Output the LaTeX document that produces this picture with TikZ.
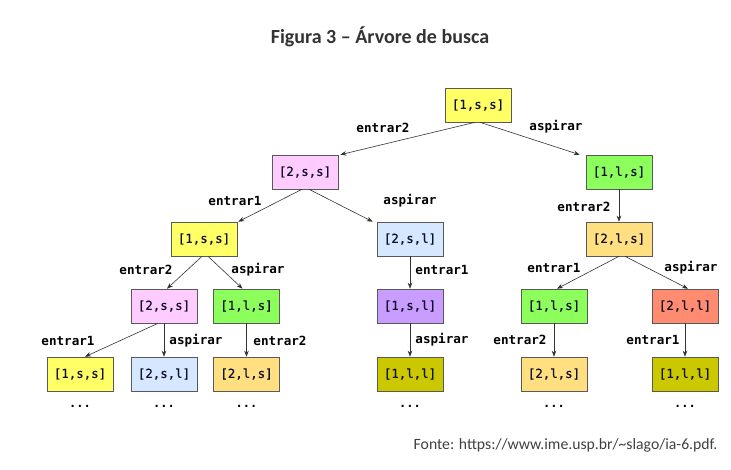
\documentclass[tikz,border=0pt]{standalone}
\usepackage{fontspec}
\setmainfont{Carlito}
\setmonofont{DejaVu Sans Mono}
\newfontfamily\nodefont{DejaVu Sans Mono}[FakeBold=0.6]
\usetikzlibrary{arrows.meta}
\definecolor{cyel}{HTML}{FFFF66}
\definecolor{cpink}{HTML}{FFCCFF}
\definecolor{cgreen}{HTML}{8CFF5C}
\definecolor{cblue}{HTML}{D6E8FF}
\definecolor{cgold}{HTML}{FFDF80}
\definecolor{cpurp}{HTML}{C99CFF}
\definecolor{colive}{HTML}{CCC800}
\definecolor{csalm}{HTML}{FF8C70}
\definecolor{ctxt}{HTML}{101028}
\tikzset{
  st/.style={draw=black!65, line width=0.6pt, minimum width=66pt, minimum height=34pt, inner sep=0pt,
    font=\fontsize{12.4}{13}\selectfont\nodefont, text=ctxt},
  lbl/.style={font=\fontsize{12.6}{13}\selectfont\ttfamily\bfseries, text=black, inner sep=0pt},
  dots/.style={font=\fontsize{12}{13}\selectfont\ttfamily\bfseries, text=black, inner sep=0pt},
  edge/.style={draw=black!80, line width=0.6pt, -{Stealth[length=6pt,width=4.5pt]}}
}
\begin{document}
\begin{tikzpicture}[x=1pt,y=-1pt]
\fill[white] (0,0) rectangle (731,469);
\useasboundingbox (0,0) rectangle (731,469);
\node[font=\fontsize{20}{22}\selectfont\bfseries, text=black!80] (title) at (380,37) {Figura 3 – Árvore de busca};
\node[font=\fontsize{15.7}{17}\selectfont, text=black!75, anchor=east] (src) at (721,445) {Fonte: https://www.ime.usp.br/\char`\~slago/ia-6.pdf.};
% nodes
\node[st, fill=cyel]  (r)    at (478,105) {[1,s,s]};
\node[st, fill=cpink] (a)    at (305,172) {[2,s,s]};
\node[st, fill=cgreen](b)    at (619,172) {[1,l,s]};
\node[st, fill=cyel]  (a1)   at (204,239) {[1,s,s]};
\node[st, fill=cblue] (a2)   at (410,239) {[2,s,l]};
\node[st, fill=cgold] (b1)   at (619,239) {[2,l,s]};
\node[st, fill=cpink] (a11)  at (164,306) {[2,s,s]};
\node[st, fill=cgreen](a12)  at (246.5,306) {[1,l,s]};
\node[st, fill=cpurp] (a21)  at (410,306) {[1,s,l]};
\node[st, fill=cgreen](b11)  at (554,306) {[1,l,s]};
\node[st, fill=csalm] (b12)  at (685,306) {[2,l,l]};
\node[st, fill=cyel]  (a111) at (80,374) {[1,s,s]};
\node[st, fill=cblue] (a112) at (164,374) {[2,s,l]};
\node[st, fill=cgold] (a121) at (246.5,374) {[2,l,s]};
\node[st, fill=colive](a211) at (410,374) {[1,l,l]};
\node[st, fill=cgold] (b111) at (554,374) {[2,l,s]};
\node[st, fill=colive](b121) at (685,374) {[1,l,l]};
% edges
\draw[edge] ([xshift=-3pt]r.south) -- ([xshift=2pt]a.north east);
\draw[edge] ([xshift=2pt]r.south) -- ([xshift=-6pt]b.north west);
\draw[edge] (b.south) -- (b1.north);
\draw[edge] ([xshift=-3pt]a.south) -- ([xshift=1pt]a1.north east);
\draw[edge] ([xshift=4pt]a.south) -- ([xshift=-4pt]a2.north west);
\draw[edge] ([xshift=-2pt]a1.south) -- ([xshift=3pt]a11.north);
\draw[edge] ([xshift=4pt]a1.south) -- ([xshift=-4pt]a12.north);
\draw[edge] (a2.south) -- (a21.north);
\draw[edge] (b1.south) -- ([xshift=3pt]b11.north);
\draw[edge] ([xshift=6pt]b1.south) -- ([xshift=3pt]b12.north);
\draw[edge] ([xshift=-6pt]a11.south) -- ([xshift=5pt]a111.north);
\draw[edge] (a11.south) -- (a112.north);
\draw[edge] (a12.south) -- (a121.north);
\draw[edge] (a21.south) -- (a211.north);
\draw[edge] (b11.south) -- (b111.north);
\draw[edge] (b12.south) -- (b121.north);
% labels
\node[lbl] (l1)  at (383,128) {entrar2};
\node[lbl] (l2)  at (556,127) {aspirar};
\node[lbl] (l3)  at (235,201) {entrar1};
\node[lbl] (l4)  at (410,201) {aspirar};
\node[lbl] (l5)  at (584,207) {entrar2};
\node[lbl] (l6)  at (146,270) {entrar2};
\node[lbl] (l7)  at (258,270) {aspirar};
\node[lbl] (l8)  at (442,270) {entrar1};
\node[lbl] (l9)  at (554,268) {entrar1};
\node[lbl] (l10) at (691,268) {aspirar};
\node[lbl] (l11) at (68,341)  {entrar1};
\node[lbl] (l12) at (196,341) {aspirar};
\node[lbl] (l13) at (280,341) {entrar2};
\node[lbl] (l14) at (442,340) {aspirar};
\node[lbl] (l15) at (520,340) {entrar2};
\node[lbl] (l16) at (653,340) {entrar1};
% dots
\node[dots] (d1) at (80,406)  {...};
\node[dots] (d2) at (164,406) {...};
\node[dots] (d3) at (246.5,406) {...};
\node[dots] (d4) at (410,406) {...};
\node[dots] (d5) at (554,406) {...};
\node[dots] (d6) at (685,406) {...};
\end{tikzpicture}
\end{document}
